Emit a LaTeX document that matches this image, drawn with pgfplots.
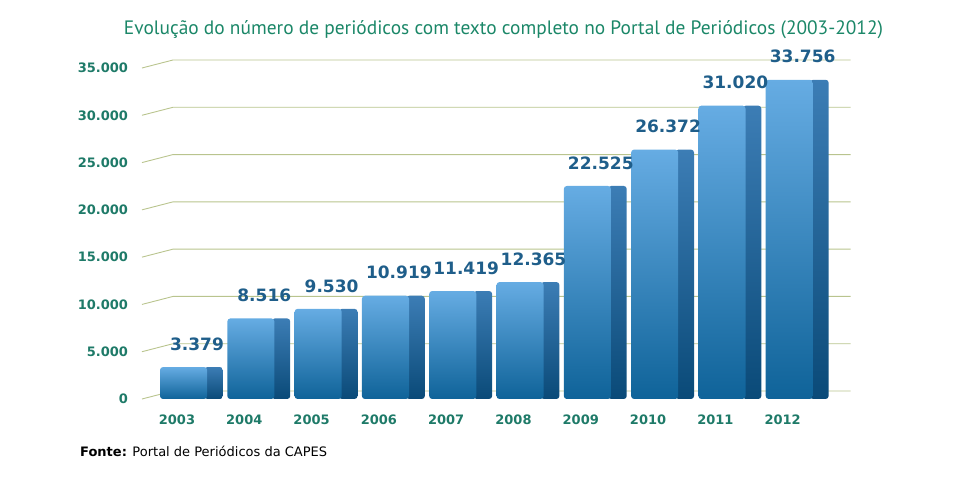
\documentclass[border=0pt]{standalone}
\usepackage{pgfplots}
\pgfplotsset{compat=1.18}
\usepackage{fontspec}
\setmainfont{DejaVu Sans}
\newfontfamily\titlefont{PT Sans}
\definecolor{titlegreen}{HTML}{1B8768}
\definecolor{ticklab}{HTML}{1E7A68}
\definecolor{labblue}{HTML}{1F5E8A}
\definecolor{gridc}{HTML}{B9C48E}
\definecolor{frontTop}{HTML}{66ACE3}
\definecolor{frontBot}{HTML}{0F6399}
\definecolor{sideTop}{HTML}{3C7DB5}
\definecolor{sideBot}{HTML}{0A4A78}
\pgfplotsset{
  side/.style={ybar, bar width=0.275, bar shift=0.3375, draw=none, top color=sideTop, bottom color=sideBot, rounded corners=3pt},
  front/.style={ybar, bar width=0.70, bar shift=-0.11, draw=none, top color=frontTop, bottom color=frontBot, rounded corners=3pt,
    nodes near coords={\pgfmathprintnumber[fixed,precision=0,1000 sep={.},assume math mode=true]{\pgfplotspointmeta}},
    nodes near coords style={font=\bfseries\fontsize{17}{17}\selectfont, color=labblue, yshift=13pt, xshift=6pt}},
}
\begin{document}
\begin{tikzpicture}[x=1pt,y=1pt]
\path[use as bounding box] (0,0) rectangle (954,490);
\begin{axis}[
  at={(140.5pt,91pt)}, anchor=south west,
  scale only axis, width=710pt, height=331pt,
  xmin=-0.75, xmax=9.8, ymin=0, ymax=35000,
  clip=false,
  axis line style={draw=none}, major tick length=0pt,
  xtick={0,1,2,3,4,5,6,7,8,9},
  xticklabels={2003,2004,2005,2006,2007,2008,2009,2010,2011,2012},
  xticklabel style={font=\bfseries\fontsize{13}{13}\selectfont, color=ticklab, xshift=-14pt, yshift=-12pt},
  ytick={0,5000,10000,15000,20000,25000,30000,35000},
  scaled y ticks=false,
  yticklabel={\pgfmathprintnumber[fixed,precision=0,1000 sep={.},assume math mode=true]{\tick}},
  yticklabel style={font=\bfseries\fontsize{13}{13}\selectfont, color=ticklab, xshift=-9pt},
]
\pgfplotsinvokeforeach{0,5000,10000,15000,20000,25000,30000,35000}{
  \draw[gridc, line width=0.9pt] (axis cs:-0.728,#1) -- ([yshift=8pt]axis cs:-0.267,#1) -- ([yshift=8pt]axis cs:9.8,#1);
}
\addplot[side] coordinates {(0,3379)};
\addplot[side] coordinates {(1,8516)};
\addplot[side] coordinates {(2,9530)};
\addplot[side] coordinates {(3,10919)};
\addplot[side] coordinates {(4,11419)};
\addplot[side] coordinates {(5,12365)};
\addplot[side] coordinates {(6,22525)};
\addplot[side] coordinates {(7,26372)};
\addplot[side] coordinates {(8,31020)};
\addplot[side] coordinates {(9,33756)};
\addplot[front] coordinates {(0,3379)};
\addplot[front] coordinates {(1,8516)};
\addplot[front] coordinates {(2,9530)};
\addplot[front] coordinates {(3,10919)};
\addplot[front] coordinates {(4,11419)};
\addplot[front] coordinates {(5,12365)};
\addplot[front] coordinates {(6,22525)};
\addplot[front] coordinates {(7,26372)};
\addplot[front] coordinates {(8,31020)};
\addplot[front] coordinates {(9,33756)};
\end{axis}
\node[font=\titlefont\fontsize{19.4}{20}\selectfont, color=titlegreen] at (503.5,460) {Evolução do número de periódicos com texto completo no Portal de Periódicos (2003-2012)};
\node[anchor=west, font=\fontsize{13}{13}\selectfont, inner sep=0pt] at (80,39) {\textbf{Fonte:} Portal de Periódicos da CAPES};
\end{tikzpicture}
\end{document}
